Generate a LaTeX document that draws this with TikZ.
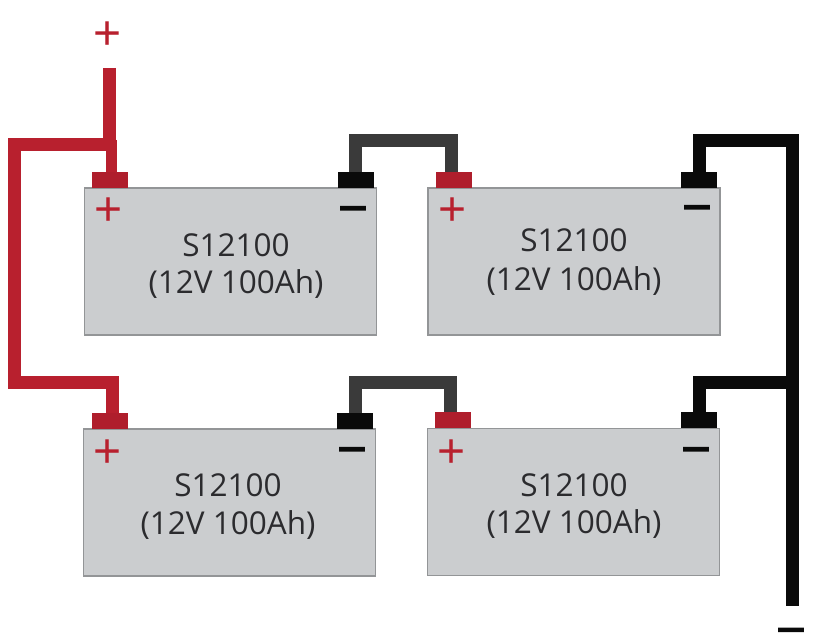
\documentclass[tikz,border=0pt]{standalone}
\usepackage{fontspec}
\setmainfont{Open Sans}
\newfontfamily\signfont{Liberation Sans}
\newfontfamily\minusfont[FakeBold=8,FakeStretch=1.35]{DejaVu Sans}[BoldFont={}]
\definecolor{wred}{HTML}{B8202E}
\definecolor{wdark}{HTML}{3A3A3A}
\definecolor{wblack}{HTML}{0A0A0A}
\definecolor{batfill}{HTML}{CBCDCF}
\definecolor{batline}{HTML}{939597}
\definecolor{txt}{HTML}{2B2B2E}
\tikzset{
  battery/.style={draw=batline,line width=1.6pt,fill=batfill,minimum width=292pt,minimum height=147pt,inner sep=0pt},
  lbl/.style={text=txt,font=\fontsize{31.5}{36}\selectfont,inner sep=0pt},
  term/.style={minimum width=36pt,minimum height=16pt,inner sep=0pt,anchor=south},
  redterm/.style={term,fill=wred!95!black},
  blackterm/.style={term,fill=wblack},
  wire/.style={line width=13pt,line join=miter},
  redwire/.style={wire,draw=wred},
  darkwire/.style={wire,draw=wdark},
  blackwire/.style={wire,draw=wblack},
  plussign/.style={text=wred,font=\signfont\fontsize{48}{48}\selectfont,inner sep=0pt},
  minussign/.style={text=wblack,font=\minusfont\fontsize{28}{28}\selectfont,inner sep=0pt,anchor=base},
}
\begin{document}
\begin{tikzpicture}[x=1pt,y=-1pt]
\useasboundingbox (0,0) rectangle (817,639);
% batteries
\node[battery] (b1) at (230.5,261.5) {};
\node[battery] (b2) at (574,261.5) {};
\node[battery] (b3) at (229.5,502.5) {};
\node[battery] (b4) at (573.5,502) {};
% terminals
\node[redterm] (p1) at (110,188) {};
\node[blackterm] (n1) at (355.5,188) {};
\node[redterm] (p2) at (454,188) {};
\node[blackterm] (n2) at (699,188) {};
\node[redterm] (p3) at (110,429) {};
\node[blackterm] (n3) at (355,429) {};
\node[redterm] (p4) at (453,428) {};
\node[blackterm] (n4) at (699,428) {};
% labels
\node[lbl] (t1a) at (236,245) {S12100};
\node[lbl] (t1b) at (236,284) {(12V 100Ah)};
\node[lbl] (t2a) at (574,240) {S12100};
\node[lbl] (t2b) at (574,281) {(12V 100Ah)};
\node[lbl] (t3a) at (228,485) {S12100};
\node[lbl] (t3b) at (228,525) {(12V 100Ah)};
\node[lbl] (t4a) at (574,485) {S12100};
\node[lbl] (t4b) at (574,524) {(12V 100Ah)};
% signs
\node[plussign] (plus0) at (108,36) {+};
\node[plussign] (plus1) at (109,212) {+};
\node[plussign] (plus2) at (453,212) {+};
\node[plussign] (plus3) at (108,454) {+};
\node[plussign] (plus4) at (452,454) {+};
\node[minussign] (minus1) at (353,217) {−};
\node[minussign] (minus2) at (697,216) {−};
\node[minussign] (minus3) at (352,458) {−};
\node[minussign] (minus4) at (696,458) {−};
\node[minussign] (minus0) at (791,638.6) {−};
% wire ends and junctions
\coordinate (topend) at (109,68);
\coordinate (redj) at (109,145);
\coordinate (redleft) at (14.5,145);
\coordinate (redlow) at (14.5,382);
\coordinate (botend) at (792.5,606);
\coordinate (blackj) at (792.5,141);
\coordinate (blackk) at (792.5,382);
\coordinate (dark1) at (400,141);
\coordinate (dark2) at (400,382);
% wires
\draw[redwire] (topend) -- (redj);
\draw[redwire,line width=11pt] (111.5,140) -- (111.5,172);
\draw[redwire] (112,145) -- (redleft) -- (redlow) -| (112,413);
\draw[darkwire] (n1.north) |- (dark1) -| ([xshift=-3pt]p2.north);
\draw[darkwire] (n3.north) |- (dark2) -| ([xshift=-3pt]p4.north);
\draw[blackwire] (n2.north) |- (blackj) -- (botend);
\draw[blackwire] (n4.north) |- (blackk);
\end{tikzpicture}
\end{document}
